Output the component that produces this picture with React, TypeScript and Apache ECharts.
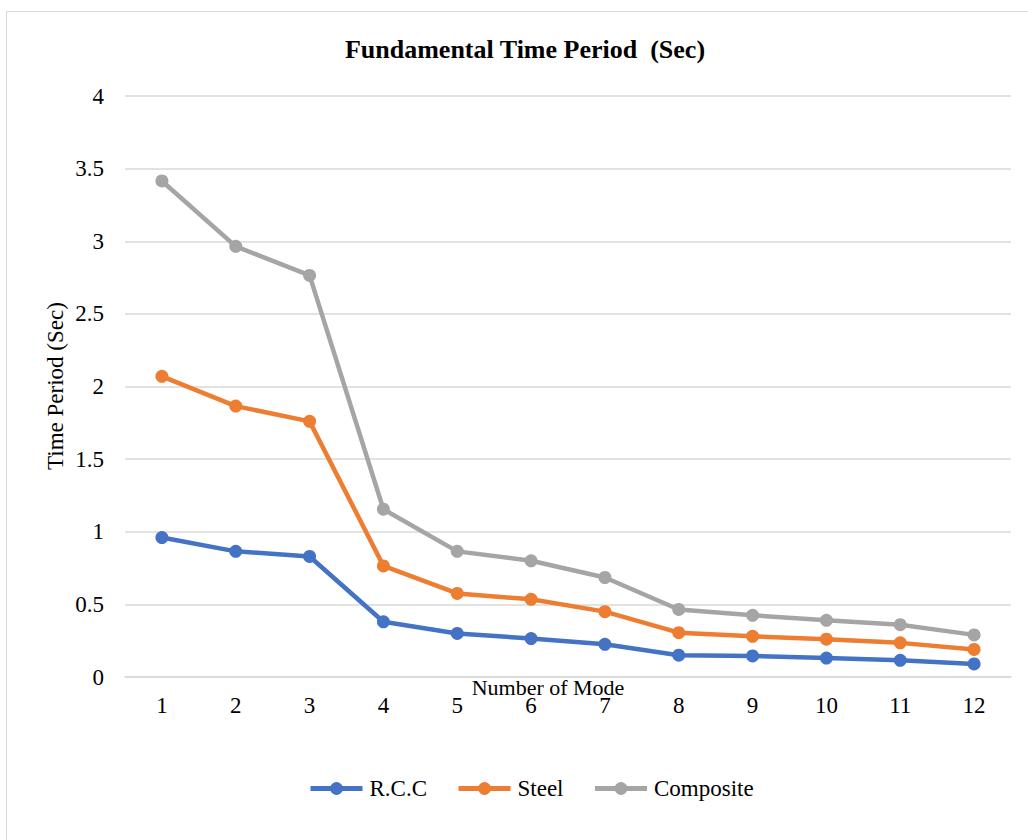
import React, { useEffect, useRef } from "react";
import * as echarts from "echarts";

const modes = ["1", "2", "3", "4", "5", "6", "7", "8", "9", "10", "11", "12"];
const rcc = [0.96, 0.865, 0.83, 0.38, 0.3, 0.265, 0.225, 0.15, 0.145, 0.13, 0.115, 0.09];
const steel = [2.07, 1.865, 1.76, 0.765, 0.575, 0.535, 0.45, 0.305, 0.28, 0.26, 0.235, 0.19];
const composite = [3.415, 2.965, 2.765, 1.155, 0.865, 0.8, 0.685, 0.465, 0.425, 0.39, 0.36, 0.29];

const seriesNames = ["R.C.C", "Steel", "Composite"];
const seriesColors = ["#4472C4", "#ED7D31", "#A5A5A5"];
const FONT = "'Liberation Serif', 'Times New Roman', serif";

export default function App() {
  const ref = useRef<HTMLDivElement>(null);
  useEffect(() => {
    document.body.style.margin = "0";
    const chart = echarts.init(ref.current!, null, { renderer: "svg" });
    const datasets = [rcc, steel, composite];
    chart.setOption({
      animation: false,
      backgroundColor: "#ffffff",
      textStyle: { fontFamily: FONT },
      graphic: [
        {
          type: "rect",
          shape: { x: 6.5, y: 11.5, width: 1040, height: 850 },
          style: { fill: "none", stroke: "#D9D9D9", lineWidth: 1 },
          silent: true,
        },
        {
          type: "text",
          x: 525,
          y: 49,
          style: {
            text: "Fundamental Time Period  (Sec)",
            font: "bold 26px " + FONT,
            fill: "#000",
            align: "center",
            verticalAlign: "middle",
          },
        },
        {
          type: "text",
          x: 548,
          y: 687,
          style: {
            text: "Number of Mode",
            font: "22px " + FONT,
            fill: "#000",
            align: "center",
            verticalAlign: "middle",
          },
        },
        {
          type: "text",
          x: 55,
          y: 386,
          rotation: Math.PI / 2,
          style: {
            text: "Time Period (Sec)",
            font: "23px " + FONT,
            fill: "#000",
            align: "center",
            verticalAlign: "middle",
          },
        },
      ],
      legend: {
        left: 303,
        top: 772,
        itemWidth: 52,
        itemHeight: 16,
        itemGap: 29,
        lineStyle: { width: 5 },
        textStyle: { fontSize: 23, fontFamily: FONT, color: "#000", padding: [0, 0, 0, 2] },
        data: seriesNames,
      },
      grid: { left: 125, right: 17, top: 96, bottom: 163, containLabel: false },
      xAxis: {
        type: "category",
        data: modes,
        boundaryGap: true,
        axisLine: { show: true, lineStyle: { color: "#D9D9D9", width: 1.5 } },
        axisTick: { show: false },
        axisLabel: { fontSize: 23, fontFamily: FONT, color: "#000", margin: 17 },
      },
      yAxis: {
        type: "value",
        min: 0,
        max: 4,
        interval: 0.5,
        axisLine: { show: false },
        axisTick: { show: false },
        splitLine: { lineStyle: { color: "#D9D9D9", width: 1.5 } },
        axisLabel: { fontSize: 23, fontFamily: FONT, color: "#000", margin: 21 },
      },
      series: datasets.map((d, i) => ({
        name: seriesNames[i],
        type: "line",
        data: d,
        symbol: "circle",
        symbolSize: 13,
        color: seriesColors[i],
        lineStyle: { width: 4.5, color: seriesColors[i] },
        itemStyle: { color: seriesColors[i] },
      })),
    });
    return () => chart.dispose();
  }, []);
  return <div ref={ref} style={{ width: 1028, height: 840 }} />;
}
